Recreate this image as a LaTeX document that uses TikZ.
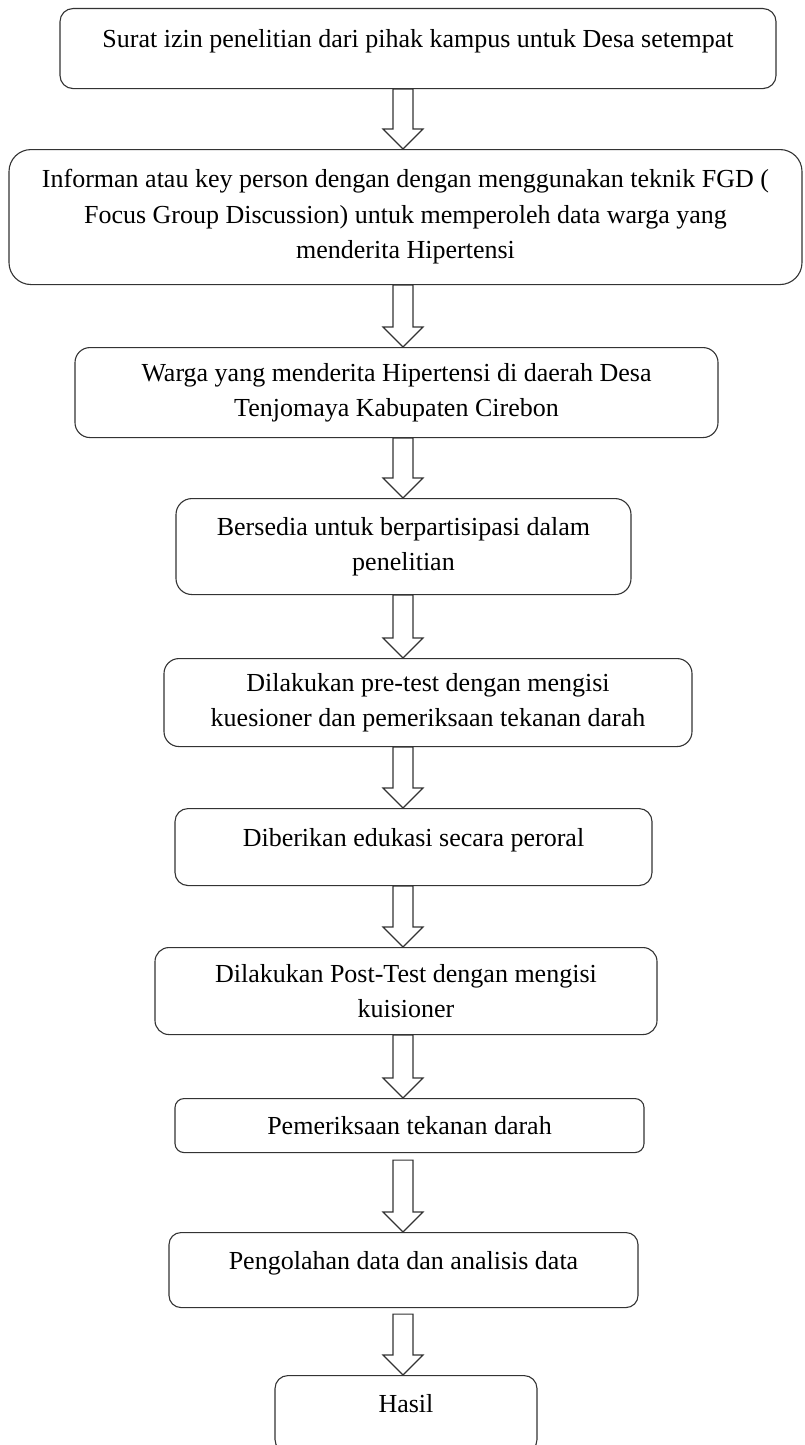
\documentclass[tikz,border=0pt]{standalone}
\usepackage{fontspec}
\setmainfont{Liberation Serif}
\usetikzlibrary{calc}

\begin{document}
\begin{tikzpicture}[x=1pt, y=-1pt,
    stepbox/.style={draw=black!80, line width=1.1pt, rounded corners=#1, anchor=north, align=center, inner sep=0pt, font=\fontsize{26}{35.5}\selectfont},
    stepbox/.default=12pt,
    raised/.style={text height=18pt, text depth=#1},
    hollowarrow/.style={draw=black!80, line width=1.1pt, fill=white, line join=miter}
  ]
  \useasboundingbox (0,0) rectangle (804,1445);
  \coordinate (axis) at (403,0);

  % Steps of the procedure
  \node[stepbox=13pt, minimum width=716pt, minimum height=80pt, raised=19.7pt] (surat) at (418,8) {Surat izin penelitian dari pihak kampus untuk Desa setempat};
  \node[stepbox=22pt, minimum width=793pt, minimum height=135pt] (informan) at (405.5,149) {Informan atau key person dengan dengan menggunakan teknik FGD (\\ Focus Group Discussion) untuk memperoleh data warga yang\\ menderita Hipertensi};
  \node[stepbox=15pt, minimum width=643pt, minimum height=90pt] (warga) at (396.5,347) {Warga yang menderita Hipertensi di daerah Desa\\ Tenjomaya Kabupaten Cirebon};
  \node[stepbox=16pt, minimum width=455pt, minimum height=96pt] (bersedia) at (403.5,498) {Bersedia untuk berpartisipasi dalam\\ penelitian};
  \node[stepbox=15pt, minimum width=528pt, minimum height=88pt] (pretest) at (428,658) {Dilakukan pre-test dengan mengisi\\ kuesioner dan pemeriksaan tekanan darah};
  \node[stepbox=13pt, minimum width=477pt, minimum height=77pt, raised=18.7pt] (edukasi) at (413.5,808) {Diberikan edukasi secara peroral};
  \node[stepbox=14pt, minimum width=502pt, minimum height=87pt] (posttest) at (406,947) {Dilakukan Post-Test dengan mengisi\\ kuisioner};
  \node[stepbox=9pt, minimum width=469pt, minimum height=54pt] (periksa) at (409.5,1098) {Pemeriksaan tekanan darah};
  \node[stepbox=12pt, minimum width=469pt, minimum height=75pt, raised=18.7pt] (olah) at (403.5,1232) {Pengolahan data dan analisis data};
  \node[stepbox=13pt, minimum width=262pt, minimum height=77pt, raised=20.7pt] (hasil) at (406,1375) {Hasil};

  % Block arrows between the steps
  \foreach \a/\b/\g in {surat/informan/0, informan/warga/0, warga/bersedia/0, bersedia/pretest/0, pretest/edukasi/0, edukasi/posttest/0, posttest/periksa/0, periksa/olah/7, olah/hasil/6}
    \draw[hollowarrow] ($(axis |- \a.south)+(-10,\g)$) -- ($(axis |- \b.north)+(-10,-20)$) -- ++(-10,0) -- (axis |- \b.north) -- ++(20,-20) -- ++(-10,0) -- ($(axis |- \a.south)+(10,\g)$) -- cycle;
\end{tikzpicture}
\end{document}
